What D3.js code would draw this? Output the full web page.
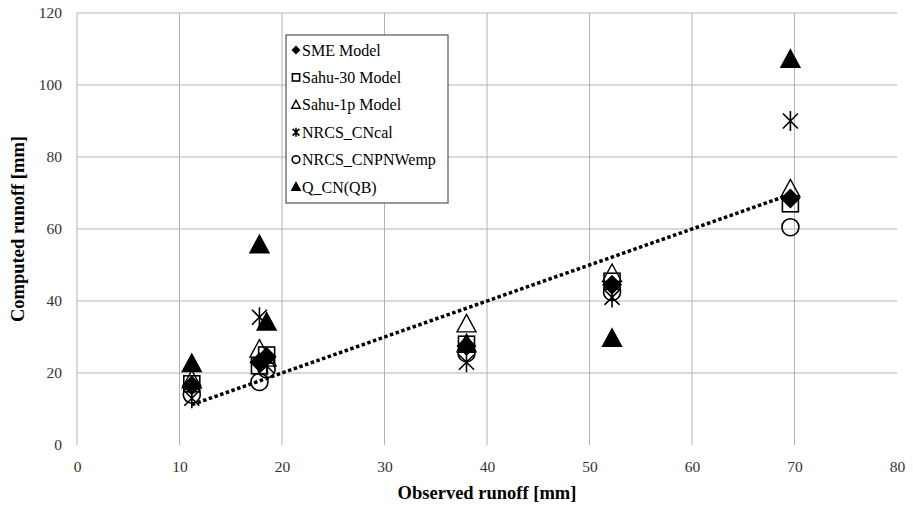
<!DOCTYPE html>
<html>
<head>
<meta charset="utf-8">
<script src="https://cdn.jsdelivr.net/npm/d3@7/dist/d3.min.js"></script>
<style>
  body { margin: 0; background: #fff; }
  svg text { font-family: "Liberation Serif", "Times New Roman", serif; }
</style>
</head>
<body>
<svg width="913" height="512"></svg>
<script>
// observed runoff (x) and computed runoff by each model (y), mm
const observed = [11.2, 17.8, 18.5, 38.0, 52.2, 69.6];
const sme      = [16.5, 23.0, 24.5, 27.5, 44.5, 68.5];
const sahu30   = [17.0, 22.0, 25.0, 28.0, 45.5, 67.0];
const sahu1p   = [18.0, 26.5, 24.0, 33.5, 47.5, 71.0];
const cnCal    = [13.0, 35.5, 22.0, 23.0, 41.0, 90.0];
const cnPnwEmp = [14.0, 17.5, 21.0, 25.5, 42.5, 60.5];
const qCn      = [22.5, 55.5, 34.0, 28.0, 29.5, 107.0];

const seriesNames = ["SME Model", "Sahu-30 Model", "Sahu-1p Model", "NRCS_CNcal", "NRCS_CNPNWemp", "Q_CN(QB)"];
const seriesValues = [sme, sahu30, sahu1p, cnCal, cnPnwEmp, qCn];
const seriesShapes = ["diamond", "square", "triangleOpen", "star", "circle", "triangle"];

const xTicks = [0, 10, 20, 30, 40, 50, 60, 70, 80];
const yTicks = [0, 20, 40, 60, 80, 100, 120];

const svg = d3.select("svg");
const x = d3.scaleLinear().domain([0, 80]).range([77, 897]);
const y = d3.scaleLinear().domain([0, 120]).range([445, 13]);

// gridlines
svg.append("g").selectAll("line")
  .data(yTicks.filter(d => d > 0))
  .enter().append("line")
  .attr("x1", x(0)).attr("x2", x(80))
  .attr("y1", d => y(d)).attr("y2", d => y(d))
  .attr("stroke", "#b3b3b3").attr("stroke-width", 1);
svg.append("g").selectAll("line")
  .data(xTicks.filter(d => d < 80))
  .enter().append("line")
  .attr("x1", d => x(d)).attr("x2", d => x(d))
  .attr("y1", y(0)).attr("y2", y(120))
  .attr("stroke", "#b3b3b3").attr("stroke-width", 1);

// axes (labels only)
const xAxis = d3.axisBottom(x).tickValues(xTicks).tickSize(0).tickPadding(16);
const yAxis = d3.axisLeft(y).tickValues(yTicks).tickSize(0).tickPadding(15);
svg.append("g").attr("transform", `translate(0,${y(0)})`).call(xAxis)
  .attr("font-family", null)
  .call(g => g.select(".domain").remove())
  .selectAll("text").attr("font-size", 15.5).attr("fill", "#333");
svg.append("g").attr("transform", `translate(${x(0)},0)`).call(yAxis)
  .attr("font-family", null)
  .call(g => g.select(".domain").remove())
  .selectAll("text").attr("font-size", 15.5).attr("fill", "#333");

svg.append("text")
  .attr("x", 487).attr("y", 499)
  .attr("text-anchor", "middle")
  .attr("font-size", 18.5).attr("font-weight", "bold")
  .text("Observed runoff [mm]");
svg.append("text")
  .attr("transform", "translate(24,229)rotate(-90)")
  .attr("text-anchor", "middle")
  .attr("font-size", 18.5).attr("font-weight", "bold")
  .text("Computed runoff [mm]");

// 1:1 line across observed range
const ext = d3.extent(observed);
svg.append("line")
  .attr("x1", x(ext[0])).attr("y1", y(ext[0]))
  .attr("x2", x(ext[1])).attr("y2", y(ext[1]))
  .attr("stroke", "#000").attr("stroke-width", 3.5)
  .attr("stroke-dasharray", "3.5,2.5");

function drawMarker(g, shape, s) {
  // s = half size
  if (shape === "diamond") {
    g.append("path").attr("d", `M0,${-s}L${s},0L0,${s}L${-s},0Z`).attr("fill", "#000");
  } else if (shape === "square") {
    g.append("rect").attr("x", -s * 0.8).attr("y", -s * 0.8)
      .attr("width", s * 1.6).attr("height", s * 1.6)
      .attr("fill", "none").attr("stroke", "#000").attr("stroke-width", 1.6);
  } else if (shape === "triangleOpen" || shape === "triangle") {
    g.append("path").attr("d", `M0,${-s}L${s * 0.95},${s * 0.75}L${-s * 0.95},${s * 0.75}Z`)
      .attr("fill", shape === "triangle" ? "#000" : "none")
      .attr("stroke", "#000").attr("stroke-width", 1.4);
  } else if (shape === "star") {
    const a = s * 0.75;
    g.append("path").attr("d", `M${-a},${-a}L${a},${a}M${-a},${a}L${a},${-a}M0,${-s}L0,${s}`)
      .attr("stroke", "#000").attr("stroke-width", 1.6).attr("fill", "none");
  } else if (shape === "circle") {
    g.append("circle").attr("r", s * 0.85)
      .attr("fill", "none").attr("stroke", "#000").attr("stroke-width", 1.6);
  }
}

// points
seriesValues.forEach((vals, i) => {
  const grp = svg.append("g");
  grp.selectAll("g")
    .data(vals)
    .enter().append("g")
    .attr("transform", (d, j) => `translate(${x(observed[j])},${y(d)})`)
    .each(function() { drawMarker(d3.select(this), seriesShapes[i], 10); });
});

// legend
const lg = svg.append("g").attr("transform", "translate(286,35)");
lg.append("rect").attr("width", 162).attr("height", 168)
  .attr("fill", "#fff").attr("stroke", "#555").attr("stroke-width", 1.2);
seriesNames.forEach((name, i) => {
  const row = lg.append("g").attr("transform", `translate(10,${15 + i * 27.4})`);
  drawMarker(row, seriesShapes[i], 4.5);
  row.append("text").attr("x", 6).attr("y", 5.5)
    .attr("font-size", 16).attr("fill", "#000").text(name);
});
</script>
</body>
</html>
